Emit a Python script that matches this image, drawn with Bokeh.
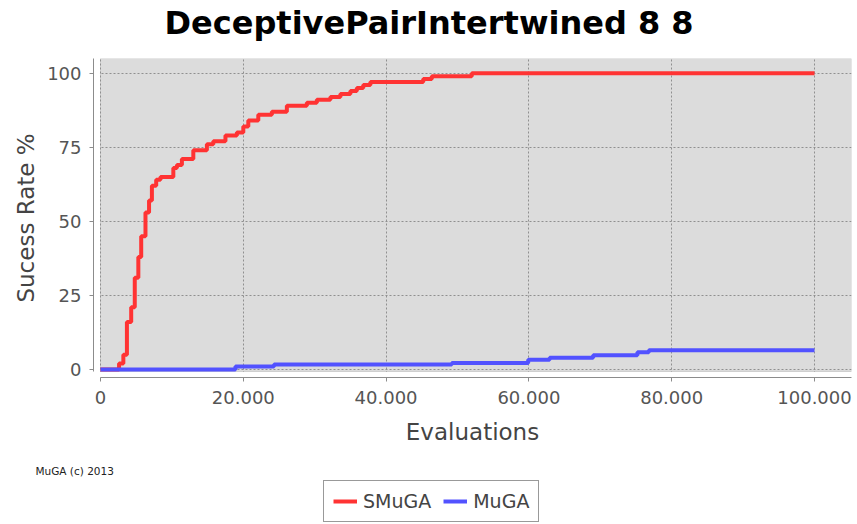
from bokeh.plotting import figure
from bokeh.layouts import column
from bokeh.models import (Range1d, FixedTicker, BoxAnnotation, Label, Legend, LegendItem)
from bokeh.embed import file_html
from bokeh.resources import INLINE

# ---------------- data ----------------
smuga_evals = [0, 2600, 3200, 3700, 4300, 4800, 5300, 5700, 6300, 6800, 7200, 7800, 8400,
               10200, 10700, 11400, 13000, 14900, 15800, 17500, 19100, 20000, 20700, 22100,
               24000, 26100, 28900, 30300, 32200, 33600, 35000, 35900, 36800, 37800, 45200,
               46400, 52000, 100000]
smuga_rate = [0, 2, 5, 16, 21, 31, 38, 45, 53, 57, 62, 64, 65,
              68, 69, 71, 74, 76, 77, 79, 80, 82, 84, 86,
              87, 89, 90, 91, 92, 93, 94, 95, 96, 97, 98,
              99, 100, 100]
muga_evals = [0, 18900, 24300, 49200, 59900, 62900, 69000, 75200, 76800, 100000]
muga_rate = [0, 1.0, 1.7, 2.2, 3.3, 4.0, 4.8, 5.8, 6.5, 6.5]

x_ticks = [0, 20000, 40000, 60000, 80000, 100000]
x_tick_labels = ["0", "20.000", "40.000", "60.000", "80.000", "100.000"]
y_ticks = [0, 25, 50, 75, 100]
y_tick_labels = ["0", "25", "50", "75", "100"]

title_text = "DeceptivePairIntertwined 8 8"
x_label = "Evaluations"
y_label = "Sucess Rate %"
credit_text = "MuGA (c) 2013"
series_names = ["SMuGA", "MuGA"]
series_colors = ["#FF3333", "#5252FF"]

# ---------------- layout ----------------
W = 857
H0, H1, H2 = 48, 404, 72          # header, plot, footer heights (sum 524)
FL, FR = 93, 851                   # frame left / right
FT, FB = 58 - H0, 377 - H0         # frame top / bottom inside the plot figure
X0, X1 = -980, 105182
Y0, Y1 = -2.7, 104.96
FONT = "DejaVu Sans"


def blank(height):
    f = figure(width=W, height=height, output_backend="svg", toolbar_location=None,
               x_range=Range1d(0, W), y_range=Range1d(height, 0), min_border=0)
    f.frame_align = False
    f.axis.visible = False
    f.grid.visible = False
    f.outline_line_color = None
    f.background_fill_color = "white"
    f.border_fill_color = "white"
    return f


# ---------------- header: title ----------------
h = blank(H0)
h.add_layout(Label(x=164, y=22, text=title_text, text_font=FONT, text_font_size="32px",
                   text_font_style="bold", text_color="black",
                   text_align="left", text_baseline="alphabetic"))

# ---------------- main plot ----------------
p = figure(width=W, height=H1, output_backend="svg", toolbar_location=None,
           x_range=Range1d(X0, X1), y_range=Range1d(Y0, Y1),
           min_border_left=FL, min_border_right=W - FR,
           min_border_top=FT, min_border_bottom=H1 - FB)
p.frame_align = False
p.background_fill_color = "white"
p.border_fill_color = "white"
p.outline_line_color = None

# plot area (gray) with outline
p.add_layout(BoxAnnotation(left=0, bottom=-0.675, fill_color="#DCDCDC", fill_alpha=1,
                           line_color="#8C8C8C", line_width=1, level="image"))
# white gaps between axes and plot area
p.add_layout(BoxAnnotation(right=-80, fill_color="white", fill_alpha=1,
                           line_alpha=0, level="glyph"))
p.add_layout(BoxAnnotation(top=-0.85, fill_color="white", fill_alpha=1,
                           line_alpha=0, level="glyph"))

# grids
for g in (p.xgrid, p.ygrid):
    g.grid_line_color = "#909090"
    g.grid_line_dash = "2 2"
    g.grid_line_width = 1
p.xgrid.ticker = FixedTicker(ticks=x_ticks)
p.ygrid.ticker = FixedTicker(ticks=y_ticks)

# axes
p.xaxis.ticker = FixedTicker(ticks=x_ticks)
p.yaxis.ticker = FixedTicker(ticks=y_ticks)
p.xaxis.major_label_overrides = {t: l for t, l in zip(x_ticks, x_tick_labels)}
p.yaxis.major_label_overrides = {t: l for t, l in zip(y_ticks, y_tick_labels)}
p.xaxis.bounds = (0, X1)
p.yaxis.bounds = (-0.675, Y1)
for ax in (p.xaxis, p.yaxis):
    ax.axis_line_color = "#8C8C8C"
    ax.major_tick_line_color = "#8C8C8C"
    ax.major_tick_out = 4
    ax.major_tick_in = 0
    ax.minor_tick_line_color = None
    ax.major_label_text_font = FONT
    ax.major_label_text_font_size = "18px"
    ax.major_label_text_color = "#555555"
    ax.axis_label_text_font = FONT
    ax.axis_label_text_font_size = "23px"
    ax.axis_label_text_font_style = "normal"
    ax.axis_label_text_color = "#444444"
p.xaxis.axis_label = x_label
p.yaxis.axis_label = y_label
p.xaxis.major_label_standoff = 9
p.yaxis.major_label_standoff = 8
p.xaxis.axis_label_standoff = 12
p.yaxis.axis_label_standoff = 5

# series
p.step(smuga_evals, smuga_rate, mode="after", line_color=series_colors[0], line_width=4)
p.step(muga_evals, muga_rate, mode="after", line_color=series_colors[1], line_width=4)

# ---------------- footer: credit + legend ----------------
q = blank(H2)
q.add_layout(Label(x=35, y=18, text=credit_text, text_font=FONT, text_font_size="10.5px",
                   text_color="#222222", text_align="left", text_baseline="middle"))

# legend glyph renderers (hidden copies of the series)
g1 = q.step(smuga_evals, smuga_rate, mode="after", line_color=series_colors[0],
            line_width=4, visible=False)
g2 = q.step(muga_evals, muga_rate, mode="after", line_color=series_colors[1],
            line_width=4, visible=False)
legend = Legend(items=[LegendItem(label=series_names[0], renderers=[g1]),
                       LegendItem(label=series_names[1], renderers=[g2])],
                orientation="horizontal", location=(323, 2))
legend.border_line_color = "#333333"
legend.border_line_width = 1
legend.background_fill_color = "white"
legend.background_fill_alpha = 1
legend.label_text_font = FONT
legend.label_text_font_size = "19px"
legend.label_text_color = "#444444"
legend.glyph_width = 24
legend.glyph_height = 20
legend.label_standoff = 6
legend.spacing = 12
legend.padding = 9
legend.margin = 0
q.add_layout(legend, "center")

open("out.html", "w").write(file_html(column(h, p, q, spacing=0), INLINE))
